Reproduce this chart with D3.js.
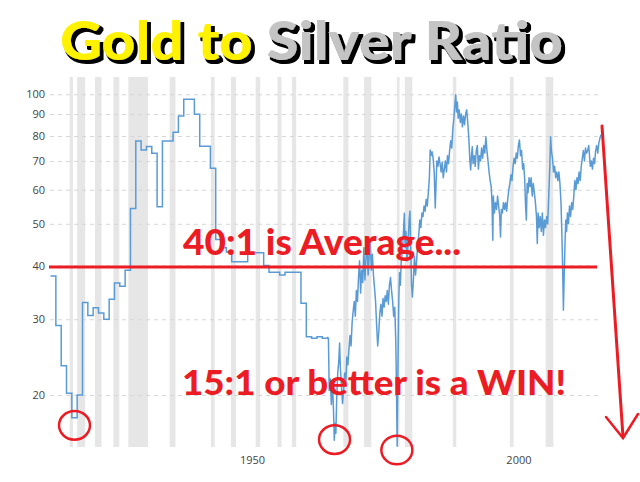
<!DOCTYPE html>
<html><head><meta charset="utf-8">
<script src="https://cdn.jsdelivr.net/npm/d3@7/dist/d3.min.js"></script>
<style>body{margin:0;background:#fff}svg{display:block}</style>
</head><body>
<svg id="chart" width="640" height="482"></svg>
<script>
// ---------- data ----------
const recessionStarts = [1918.6,1920.0,1923.35,1926.8,1929.6,1937.35,1945.1,1948.85,1953.5,1957.6,1960.3,1969.95,1973.85,1980.0,1981.5,1990.5,2001.2,2007.92];
const recessionEnds   = [1919.2,1921.5,1924.55,1927.9,1933.3,1938.45,1945.8,1949.8,1954.35,1958.35,1961.1,1970.9,1975.2,1980.5,1982.9,1991.15,2001.9,2009.35];

const earlyYears  = [1915,1916,1917,1918,1919,1920,1921,1922,1923,1924,1925,1926,1927,1928,1929,1930,1931,1932,1933,1934,1935,1936,1937,1938,1939,1940,1941,1942,1943,1944,1945,1946,1947,1948,1949,1950,1951,1952,1953,1954,1955,1956,1957,1958,1959,1960,1961,1962,1963,1964,1965,1966,1967,1967.15];
const earlyRatios = [37.8,29.0,23.4,20.2,17.7,20.0,32.8,30.6,31.9,31.0,30.0,33.4,36.4,35.8,39.0,54.3,77.9,74.2,75.6,72.9,54.8,77.9,77.9,81.6,89.0,97.4,97.4,89.9,75.7,75.7,67.3,46.0,44.0,43.0,40.8,40.8,40.8,42.8,42.8,42.8,40.0,38.6,38.6,38.0,38.6,38.6,38.6,32.7,27.3,27.1,27.3,27.1,27.2,27.2];

const lateDates = [1967.15,1967.3,1967.5,1967.7,1967.9,1968.1,1968.25,1968.4,1968.55,1968.7,1968.9,1969.1,1969.25,1969.4,1969.6,1969.8,1970.0,1970.2,1970.4,1970.6,1970.8,1971.0,1971.2,1971.4,1971.6,1971.8,1972.0,1972.2,1972.4,1972.6,1972.8,1973.0,1973.2,1973.4,1973.6,1973.8,1974.0,1974.2,1974.4,1974.6,1974.8,1975.0,1975.2,1975.4,1975.6,1975.8,1976.0,1976.2,1976.4,1976.6,1976.8,1977.0,1977.2,1977.4,1977.6,1977.8,1978.0,1978.2,1978.4,1978.6,1978.8,1979.0,1979.2,1979.4,1979.6,1979.8,1979.95,1980.05,1980.2,1980.35,1980.5,1980.65,1980.8,1981.0,1981.2,1981.4,1981.55,1981.7,1981.9,1982.1,1982.3,1982.45,1982.6,1982.75,1982.9,1983.1,1983.3,1983.5,1983.7,1983.9,1984.1,1984.3,1984.5,1984.7,1984.9,1985.1,1985.3,1985.5,1985.7,1985.9,1986.1,1986.25,1986.4,1986.6,1986.8,1987.0,1987.2,1987.35,1987.5,1987.7,1987.9,1988.1,1988.3,1988.5,1988.7,1988.9,1989.1,1989.3,1989.5,1989.7,1989.9,1990.1,1990.3,1990.5,1990.7,1990.9,1991.05,1991.2,1991.35,1991.5,1991.7,1991.9,1992.1,1992.3,1992.5,1992.7,1992.9,1993.1,1993.3,1993.5,1993.7,1993.85,1994.0,1994.15,1994.3,1994.5,1994.7,1994.9,1995.1,1995.3,1995.5,1995.7,1995.9,1996.1,1996.3,1996.5,1996.7,1996.9,1997.1,1997.3,1997.5,1997.7,1997.85,1998.0,1998.1,1998.3,1998.5,1998.7,1998.9,1999.1,1999.3,1999.45,1999.6,1999.8,2000.0,2000.2,2000.4,2000.6,2000.8,2001.0,2001.2,2001.4,2001.6,2001.8,2002.0,2002.2,2002.4,2002.6,2002.8,2003.0,2003.2,2003.4,2003.6,2003.8,2004.0,2004.15,2004.3,2004.45,2004.6,2004.8,2005.0,2005.2,2005.4,2005.6,2005.8,2006.0,2006.2,2006.35,2006.5,2006.7,2006.9,2007.1,2007.3,2007.5,2007.7,2007.9,2008.1,2008.3,2008.5,2008.7,2008.85,2009.0,2009.2,2009.4,2009.6,2009.8,2010.0,2010.2,2010.4,2010.6,2010.8,2010.95,2011.1,2011.25,2011.4,2011.55,2011.7,2011.85,2012.0,2012.2,2012.4,2012.6,2012.8,2013.0,2013.2,2013.4,2013.6,2013.8,2014.0,2014.2,2014.4,2014.6,2014.8,2015.0,2015.2,2015.4,2015.6,2015.8,2016.0,2016.15,2016.3,2016.5,2016.7,2016.9,2017.1,2017.3,2017.5,2017.7,2017.9,2018.1,2018.3];
const lateRatios = [27.2,20.5,21.8,19.0,21.5,18.5,15.7,17.2,16.3,19.5,22.5,24.0,26.4,23.0,21.0,19.1,20.5,22.5,21.0,24.5,23.5,25.5,27.5,26.0,29.5,31.4,33.0,30.5,35.0,33.0,37.5,41.0,34.5,39.0,36.5,44.0,37.0,41.5,46.0,38.0,42.0,45.5,39.0,42.5,38.0,35.5,33.0,29.0,26.0,28.0,31.0,32.5,30.5,33.5,32.0,34.0,33.0,35.0,32.5,36.0,37.5,35.0,33.0,30.5,32.0,26.5,19.5,15.2,23.0,33.0,38.5,36.0,40.5,43.0,47.0,52.9,44.0,48.0,41.0,45.0,51.0,53.5,44.0,36.0,33.8,37.0,42.0,38.0,41.0,44.5,47.0,51.0,49.0,53.0,52.0,55.0,53.5,57.0,55.0,59.0,64.0,74.2,72.0,73.5,71.0,66.0,54.4,62.0,70.0,68.0,71.5,69.0,66.0,69.5,64.0,67.0,70.0,66.0,72.0,69.0,74.0,78.0,75.0,83.0,88.0,95.0,99.8,91.0,96.0,88.0,92.0,86.0,90.0,84.0,89.0,85.0,90.0,92.0,86.0,79.0,70.0,66.7,72.0,75.5,69.0,72.0,68.0,74.0,76.0,67.0,72.0,70.0,75.0,71.0,76.0,73.0,79.7,74.0,70.0,66.0,63.0,61.0,56.0,45.8,58.0,53.0,56.0,54.0,58.0,55.0,52.0,46.6,54.0,53.0,56.0,54.0,56.0,53.5,57.0,60.0,62.0,65.0,63.0,68.0,71.0,69.0,73.0,71.0,76.0,78.3,72.0,74.0,67.0,69.0,63.0,55.0,51.0,62.0,59.0,64.0,61.0,64.0,58.0,62.0,59.0,56.0,52.0,45.0,53.0,49.0,52.0,48.0,53.0,47.0,51.0,49.0,52.0,50.0,58.0,68.0,79.7,74.0,71.0,66.0,68.0,64.0,66.0,63.0,66.0,62.0,56.0,48.0,40.0,31.5,38.0,45.0,51.0,48.0,53.0,50.0,55.0,52.0,56.0,54.0,58.0,63.0,60.0,64.0,62.0,66.0,63.0,68.0,71.0,74.0,70.0,75.0,73.0,74.0,76.0,72.0,68.0,70.0,67.0,71.0,69.0,74.0,76.0,73.0,77.0,79.0,80.5];

const yTicks = [20,30,40,50,60,70,80,90,100];
const xTicks = [1950, 2000];
const averageRatio = 40;
const titleParts = ["Gold to ", "Silver Ratio"];
const noteAverage = "40:1 is Average...";
const noteWin = "15:1 or better is a WIN!";
const circledLows = [[1919.5, 17.0], [1968.3, 15.75], [1980.0, 14.9]];

// ---------- layout ----------
const svg = d3.select("#chart");
const plot = {left: 50, right: 601.5, top: 77, bottom: 447};
const x = d3.scaleLinear().domain([1914.9, 2018.4]).range([plot.left, plot.right]);
const y = d3.scaleLog().domain([15.14, 109.7]).range([plot.bottom, plot.top]);
const red = "#ec1c24";

// drop shadow filter for title
const defs = svg.append("defs");
const f = defs.append("filter").attr("id", "shadow").attr("x", "-5%").attr("y", "-20%").attr("width", "115%").attr("height", "150%");
f.append("feMorphology").attr("in", "SourceAlpha").attr("operator", "dilate").attr("radius", 1).attr("result", "thick");
f.append("feOffset").attr("in", "thick").attr("dx", 2.5).attr("dy", 2.5).attr("result", "off");
f.append("feFlood").attr("flood-color", "#000");
f.append("feComposite").attr("in2", "off").attr("operator", "in").attr("result", "sh");
const fm = f.append("feMerge");
fm.append("feMergeNode").attr("in", "sh");
fm.append("feMergeNode").attr("in", "SourceGraphic");

// recession bands
svg.append("g").selectAll("rect").data(recessionStarts).join("rect")
  .attr("x", (d) => x(d))
  .attr("width", (d, i) => x(recessionEnds[i]) - x(d))
  .attr("y", plot.top).attr("height", plot.bottom - plot.top)
  .attr("fill", "#e6e6e6");

// y axis with dashed grid
const yAxis = svg.append("g").attr("transform", `translate(${plot.left},0)`)
  .call(d3.axisLeft(y).tickValues(yTicks).tickFormat(d3.format("d"))
        .tickSize(-(plot.right - plot.left)).tickPadding(5));
yAxis.select(".domain").remove();
yAxis.selectAll(".tick line").attr("stroke", "#d6d6d6").attr("stroke-dasharray", "4,4");
yAxis.selectAll(".tick text").attr("fill", "#444").attr("font-size", 11)
  .attr("font-family", "'Open Sans', 'DejaVu Sans', sans-serif");

// x axis
const xAxis = svg.append("g").attr("transform", `translate(0,${plot.bottom})`)
  .call(d3.axisBottom(x).tickValues(xTicks).tickFormat(d3.format("d")).tickSize(0).tickPadding(9));
xAxis.select(".domain").remove();
xAxis.selectAll(".tick text").attr("fill", "#444").attr("font-size", 11).attr("dx", 15)
  .attr("font-family", "'Open Sans', 'DejaVu Sans', sans-serif");

// ratio line
const early = earlyYears.map((d, i) => [d, earlyRatios[i]]);
const late = lateDates.map((d, i) => [d, lateRatios[i]]);
svg.append("path").datum(early)
  .attr("d", d3.line().x(d => x(d[0])).y(d => y(d[1])).curve(d3.curveStepAfter))
  .attr("fill", "none").attr("stroke", "#5b9bd5").attr("stroke-width", 1.5);
svg.append("path").datum(late)
  .attr("d", d3.line().x(d => x(d[0])).y(d => y(d[1])))
  .attr("fill", "none").attr("stroke", "#5b9bd5").attr("stroke-width", 1.5).attr("stroke-linejoin", "round");

// average line
svg.append("line").attr("x1", plot.left - 1).attr("x2", 597)
  .attr("y1", y(averageRatio) + 1.5).attr("y2", y(averageRatio) + 1.5)
  .attr("stroke", red).attr("stroke-width", 3);

// circles
svg.append("g").selectAll("ellipse").data(circledLows).join("ellipse")
  .attr("cx", d => x(d[0])).attr("cy", d => y(d[1]))
  .attr("rx", 15.5).attr("ry", 14.3)
  .attr("fill", "none").attr("stroke", red).attr("stroke-width", 2.5);

// annotations
const noteFont = "Lato, 'Open Sans', 'DejaVu Sans', sans-serif";
svg.append("text").attr("x", 183).attr("y", 255).text(noteAverage)
  .attr("font-family", noteFont).attr("font-weight", 900).attr("font-size", 36)
  .attr("fill", red).attr("textLength", 278).attr("lengthAdjust", "spacingAndGlyphs");
svg.append("text").attr("x", 182).attr("y", 395).text(noteWin)
  .attr("font-family", noteFont).attr("font-weight", 900).attr("font-size", 35)
  .attr("fill", red).attr("textLength", 384).attr("lengthAdjust", "spacingAndGlyphs");

// arrow
const arrow = svg.append("g").attr("stroke", red).attr("fill", "none").attr("stroke-linecap", "round");
arrow.append("line").attr("x1", 602).attr("y1", 126).attr("x2", 623).attr("y2", 437).attr("stroke-width", 3);
arrow.append("polyline").attr("points", "606,417 623,438 638,414").attr("stroke-width", 2.5).attr("stroke-linejoin", "miter");

// title with drop shadow (single text element)
const title = svg.append("text").attr("x", 60).attr("y", 60)
  .attr("font-family", "Lato, 'DejaVu Sans', sans-serif").attr("font-weight", 900).attr("font-size", 54)
  .attr("textLength", 503).attr("lengthAdjust", "spacingAndGlyphs")
  .attr("filter", "url(#shadow)");
title.append("tspan").text(titleParts[0]).attr("fill", "#fff200");
title.append("tspan").text(titleParts[1]).attr("fill", "#c4c4c4");
</script>
</body></html>
